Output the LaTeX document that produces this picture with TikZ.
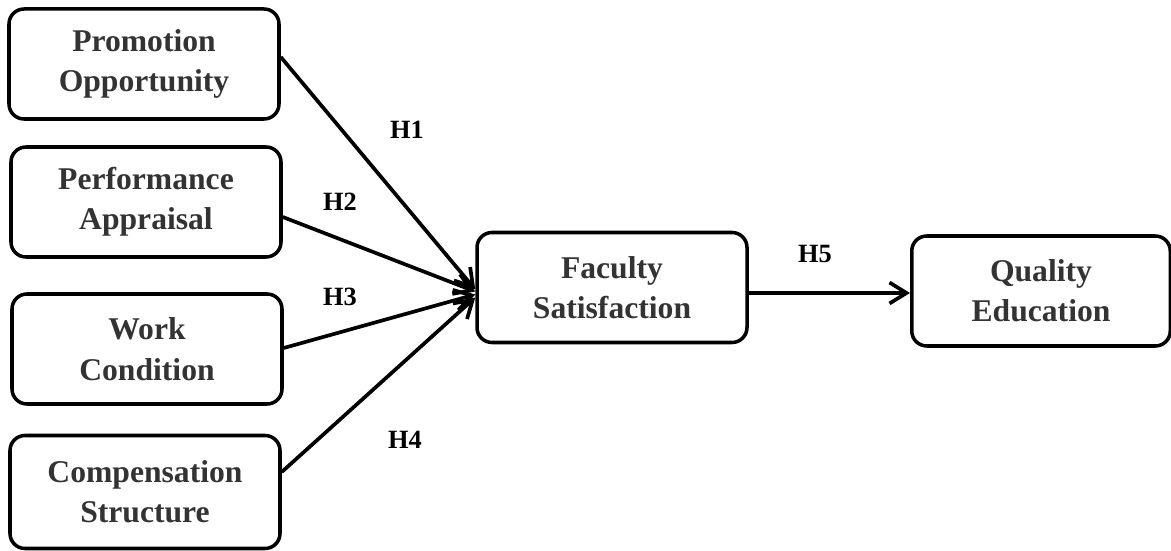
\documentclass[tikz,border=0pt]{standalone}
\usepackage{fontspec}
\setmainfont{Liberation Serif}
\usepackage{tikz}
\usepackage{xcolor}
\usetikzlibrary{arrows.meta, positioning, calc}
\definecolor{boxtext}{HTML}{333333}

\begin{document}
\begin{tikzpicture}[
    factor/.style={draw, line width=2pt, rounded corners=0.3cm, align=center,
        minimum width=5.4cm, minimum height=2.2cm, text=boxtext,
        font=\fontsize{18}{23}\selectfont\bfseries},
    hlabel/.style={font=\fontsize{15}{18}\selectfont\bfseries},
    link/.style={line width=2.1pt, -{Straight Barb[length=0.34cm, width=0.42cm, line width=2.1pt]}}
]
\useasboundingbox (0,0) rectangle (23.42,11);

% antecedents
\node[factor] (promo) at (2.88,9.72) {Promotion\\Opportunity};
\node[factor] (apprais) at (2.92,6.96) {Performance\\Appraisal};
\node[factor] (work) at (2.94,4.02) {Work\\Condition};
\node[factor, minimum height=2.26cm] (comp) at (2.90,1.16) {Compensation\\Structure};

% mediator and outcome
\node[factor] (fac) at (12.24,5.25) {Faculty\\Satisfaction};
\node[factor, minimum width=5.17cm] (qual) at (20.82,5.18) {Quality\\Education};

% paths
\draw[link] ([yshift=0.14cm]promo.east) -- ([yshift=-0.04cm]fac.west);
\draw[link] ([yshift=-0.3cm]apprais.east) -- ([yshift=-0.08cm]fac.west);
\draw[link] ([yshift=0.02cm]work.east) -- ([yshift=-0.14cm]fac.west);
\draw[link] ([yshift=0.4cm]comp.east) -- ([yshift=-0.2cm]fac.west);
\draw[link] ([yshift=-0.11cm]fac.east) -- ([yshift=-0.04cm]qual.west);

% hypotheses
\node[hlabel] (h1) at (8.14,8.4) {H1};
\node[hlabel] (h2) at (6.8,6.96) {H2};
\node[hlabel] (h3) at (6.8,5.06) {H3};
\node[hlabel] (h4) at (8.1,2.2) {H4};
\node[hlabel] (h5) at (16.3,5.92) {H5};
\end{tikzpicture}
\end{document}
